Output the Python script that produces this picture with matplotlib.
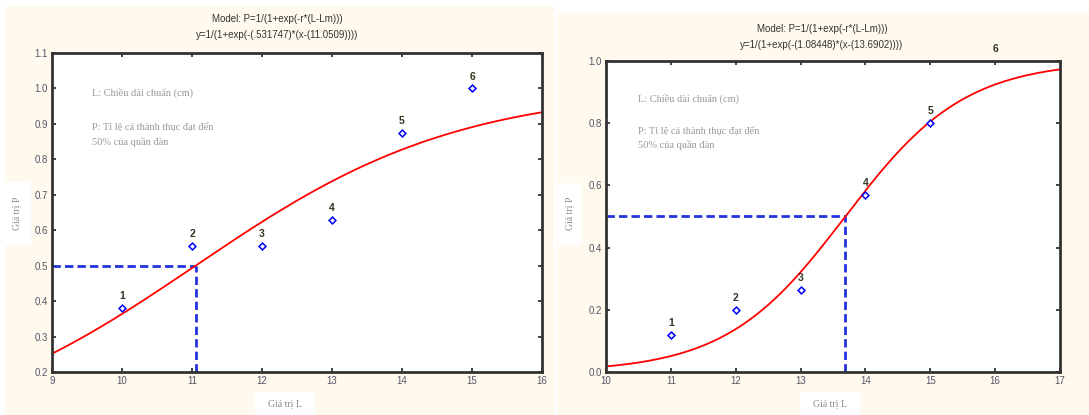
import numpy as np
import matplotlib.pyplot as plt
from matplotlib.patches import Rectangle

# ---- data ----
left_x = [10, 11, 12, 13, 14, 15]
left_y = [0.38, 0.555, 0.555, 0.63, 0.875, 1.0]
left_labels = ["1", "2", "3", "4", "5", "6"]
left_r, left_lm = 0.531747, 11.0509

right_x = [11, 12, 13, 14, 15, 16]
right_y = [0.12, 0.20, 0.265, 0.57, 0.80, 1.0]
right_labels = ["1", "2", "3", "4", "5", "6"]
right_r, right_lm = 1.08448, 13.6902

left_xticks = [9, 10, 11, 12, 13, 14, 15, 16]
left_yticks = [0.2, 0.3, 0.4, 0.5, 0.6, 0.7, 0.8, 0.9, 1.0, 1.1]
right_xticks = [10, 11, 12, 13, 14, 15, 16, 17]
right_yticks = [0.0, 0.2, 0.4, 0.6, 0.8, 1.0]

title_model = "Model: P=1/(1+exp(-r*(L-Lm)))"
left_eq = "y=1/(1+exp(-(.531747)*(x-(11.0509))))"
right_eq = "y=1/(1+exp(-(1.08448)*(x-(13.6902))))"
note1 = "L: Chiều dài chuẩn (cm)"
note2 = "P: Tỉ lệ cá thành thục đạt đến\n50% của quần đàn"
xlabel = "Giá trị L"
ylabel = "Giá trị P"

W, H = 1089, 415
fig = plt.figure(figsize=(W / 100, H / 100), dpi=100)
fig.patch.set_facecolor("white")

cream = "#fff9ee"

def px_rect(x0, y0, x1, y1, color):
    fig.patches.append(Rectangle((x0 / W, 1 - y1 / H), (x1 - x0) / W, (y1 - y0) / H,
                                 transform=fig.transFigure, facecolor=color,
                                 edgecolor="none", zorder=-10))

px_rect(5, 6, 554, 415, cream)
px_rect(557, 13, 1089, 415, cream)

def make_axes(x0, y0, x1, y1):
    return fig.add_axes([x0 / W, 1 - y1 / H, (x1 - x0) / W, (y1 - y0) / H])

tick_font = dict(family="Liberation Sans", size=7)
label_color = "#8a8a8a"

def style(ax, xlim, ylim, xticks, yticks, yfmt):
    ax.set_xlim(*xlim)
    ax.set_ylim(*ylim)
    ax.set_xticks(xticks)
    ax.set_yticks(yticks)
    ax.set_xticklabels([str(t) for t in xticks], **tick_font, color="#555566")
    ax.set_yticklabels([yfmt.format(t) for t in yticks], **tick_font, color="#555566")
    ax.tick_params(direction="in", length=3, width=1.2, color="#222222",
                   top=True, right=True, pad=3)
    for s in ax.spines.values():
        s.set_linewidth(2)
        s.set_color("#333333")
        s.set_zorder(5)
    ax.set_facecolor("white")

def draw(ax, xs, ys, labels, r, lm, xlim, ylim):
    xx = np.linspace(xlim[0], xlim[1], 300)
    ax.plot(xx, 1 / (1 + np.exp(-r * (xx - lm))), color="red", lw=1.3, zorder=3)
    ax.plot([xlim[0], lm], [0.5, 0.5], color="#2233dd", lw=2, ls=(0, (3, 1.5)), zorder=2)
    ax.plot([lm, lm], [ylim[0], 0.5], color="#2233dd", lw=2, ls=(0, (3, 1.5)), zorder=2)
    inside = [(x, y) for x, y in zip(xs, ys) if y < ylim[1]]
    ax.plot([p[0] for p in inside], [p[1] for p in inside], ls="none", marker="D",
            ms=3.5, mfc="white", mec="#0000ff", mew=1.1, zorder=4)
    for x, y, t in zip(xs, ys, labels):
        ax.annotate(t, (x, y), xytext=(0, 5), textcoords="offset points",
                    ha="center", va="bottom", fontsize=7.5, fontweight="bold",
                    family="Liberation Sans", color="#333322", annotation_clip=False)

# ---- left panel ----
axL = make_axes(52, 53, 542, 372)
style(axL, (9, 16), (0.2, 1.1), left_xticks, left_yticks, "{:.1f}")
draw(axL, left_x, left_y, left_labels, left_r, left_lm, (9, 16), (0.2, 1.1))
axL.text(0.082, 0.875, note1, transform=axL.transAxes, family="Liberation Serif",
         fontsize=7.5, color="#999999", va="center")
axL.text(0.082, 0.78, note2, transform=axL.transAxes, family="Liberation Serif",
         fontsize=7.5, color="#999999", va="top", linespacing=1.6)

# ---- right panel ----
axR = make_axes(606, 61, 1060, 372)
style(axR, (10, 17), (0.0, 1.0), right_xticks, right_yticks, "{:.1f}")
draw(axR, right_x, right_y, right_labels, right_r, right_lm, (10, 17), (0.0, 1.0))
axR.text(0.07, 0.878, note1, transform=axR.transAxes, family="Liberation Serif",
         fontsize=7.5, color="#999999", va="center")
axR.text(0.07, 0.79, note2, transform=axR.transAxes, family="Liberation Serif",
         fontsize=7.5, color="#999999", va="top", linespacing=1.6)

# ---- titles ----
tfont = dict(family="Liberation Sans", fontsize=7, color="#333333", ha="center", va="center")
fig.text(277 / W, 1 - 19 / H, title_model, **tfont)
fig.text(277 / W, 1 - 35 / H, left_eq, **tfont)
fig.text(822 / W, 1 - 29 / H, title_model, **tfont)
fig.text(822 / W, 1 - 45 / H, right_eq, **tfont)

# ---- axis labels with white boxes ----
lab = dict(family="Liberation Serif", fontsize=7, color=label_color, ha="center", va="center")
px_rect(5, 182, 31, 245, "white")
fig.text(17 / W, 1 - 213 / H, ylabel, rotation=90, **lab)
px_rect(255, 392, 315, 415, "white")
fig.text(285 / W, 1 - 404 / H, xlabel, **lab)

px_rect(558, 183, 582, 245, "white")
fig.text(570 / W, 1 - 213 / H, ylabel, rotation=90, **lab)
px_rect(800, 392, 860, 415, "white")
fig.text(830 / W, 1 - 404 / H, xlabel, **lab)

fig.savefig("out.png", dpi=100, facecolor=fig.get_facecolor())
